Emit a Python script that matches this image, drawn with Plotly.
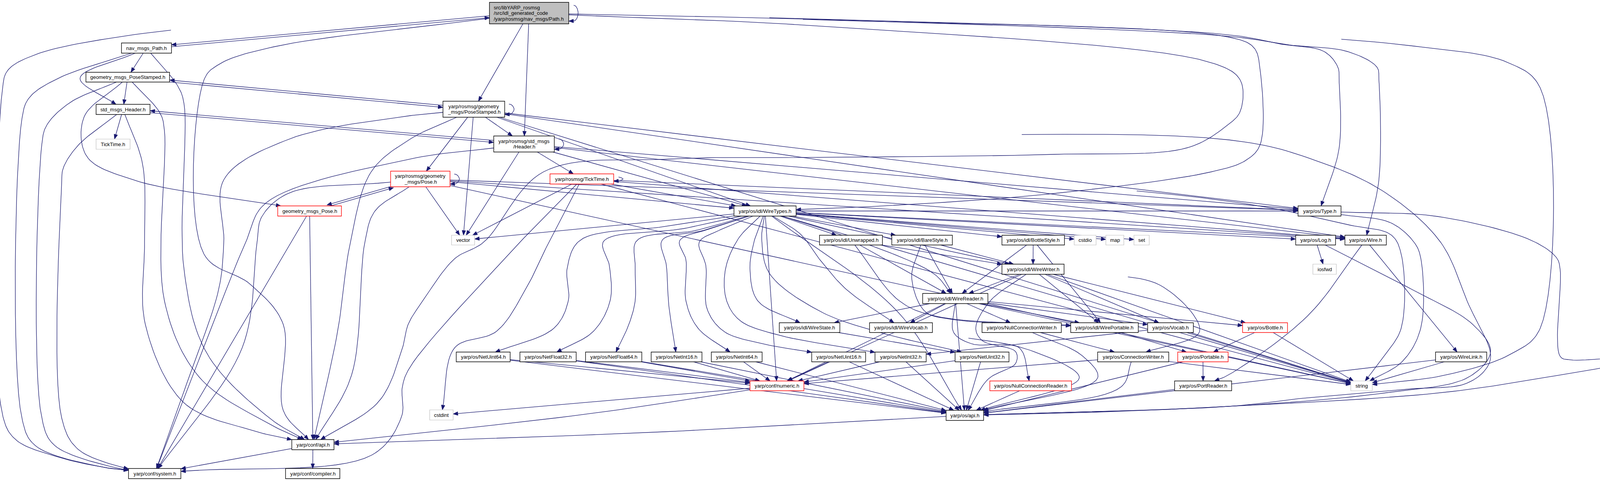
import numpy as np
import plotly.graph_objects as go

# ---- graph data: header nodes and include edges ----
node_ids = ["T", "NP", "GPS", "SH", "TT", "GP", "RPS", "RH", "RP", "RT", "WT", "vector",
            "Unwrapped", "BareStyle", "BottleStyle", "cstdio", "map", "set", "Type", "Log", "Wire",
            "WW", "WR", "iosfwd", "WS", "WV", "NCW", "WP", "Vocab", "Bottle",
            "NU64", "NF32", "NF64", "NI16", "NI64", "NU16", "NI32", "NU32", "CW", "Portable",
            "WireLink", "numeric", "NCR", "PortReader", "string", "cstdint", "osapi", "confapi",
            "system", "compiler"]
node_labels = ["src/libYARP_rosmsg\n/src/idl_generated_code\n/yarp/rosmsg/nav_msgs/Path.h",
               "nav_msgs_Path.h", "geometry_msgs_PoseStamped.h", "std_msgs_Header.h", "TickTime.h",
               "geometry_msgs_Pose.h", "yarp/rosmsg/geometry\n_msgs/PoseStamped.h",
               "yarp/rosmsg/std_msgs\n/Header.h", "yarp/rosmsg/geometry\n_msgs/Pose.h",
               "yarp/rosmsg/TickTime.h", "yarp/os/idl/WireTypes.h", "vector",
               "yarp/os/idl/Unwrapped.h", "yarp/os/idl/BareStyle.h", "yarp/os/idl/BottleStyle.h",
               "cstdio", "map", "set", "yarp/os/Type.h", "yarp/os/Log.h", "yarp/os/Wire.h",
               "yarp/os/idl/WireWriter.h", "yarp/os/idl/WireReader.h", "iosfwd",
               "yarp/os/idl/WireState.h", "yarp/os/idl/WireVocab.h", "yarp/os/NullConnectionWriter.h",
               "yarp/os/idl/WirePortable.h", "yarp/os/Vocab.h", "yarp/os/Bottle.h",
               "yarp/os/NetUint64.h", "yarp/os/NetFloat32.h", "yarp/os/NetFloat64.h",
               "yarp/os/NetInt16.h", "yarp/os/NetInt64.h", "yarp/os/NetUint16.h",
               "yarp/os/NetInt32.h", "yarp/os/NetUint32.h", "yarp/os/ConnectionWriter.h",
               "yarp/os/Portable.h", "yarp/os/WireLink.h", "yarp/conf/numeric.h",
               "yarp/os/NullConnectionReader.h", "yarp/os/PortReader.h", "string", "cstdint",
               "yarp/os/api.h", "yarp/conf/api.h", "yarp/conf/system.h", "yarp/conf/compiler.h"]
# root / normal / red (truncated graph) / ext (system header)
node_kind = ["root", "normal", "normal", "normal", "ext", "red", "normal", "normal", "red", "red",
             "normal", "ext", "normal", "normal", "normal", "ext", "ext", "ext", "normal", "normal",
             "normal", "normal", "normal", "ext", "normal", "normal", "normal", "normal", "normal",
             "red", "normal", "normal", "normal", "normal", "normal", "normal", "normal", "normal",
             "normal", "red", "normal", "red", "red", "normal", "ext", "ext", "normal", "normal",
             "normal", "normal"]

edges = [
    ("T", "T"), ("T", "NP"), ("NP", "T"), ("T", "system"), ("T", "confapi"), ("T", "confapi2"),
    ("T", "RPS"), ("T", "RH"), ("T", "string"), ("T", "Wire"), ("T", "Type"), ("T", "WT"),
    ("NP", "GPS"), ("NP", "SH"), ("NP", "system"), ("NP", "confapi"),
    ("GPS", "RPS"), ("RPS", "GPS"), ("GPS", "SH"), ("GPS", "GP"), ("GPS", "system"), ("GPS", "confapi"),
    ("SH", "TT"), ("SH", "RH"), ("RH", "SH"), ("SH", "system"), ("SH", "confapi"),
    ("GP", "RP"), ("RP", "GP"), ("GP", "confapi"), ("GP", "system"),
    ("RPS", "RPS"), ("RPS", "RH"), ("RPS", "RP"), ("RPS", "vector"), ("RPS", "WT"), ("RPS", "Type"),
    ("RPS", "Wire"), ("RPS", "string"), ("RPS", "confapi"), ("RPS", "system"),
    ("RH", "RH"), ("RH", "RT"), ("RH", "vector"), ("RH", "WT"), ("RH", "Type"), ("RH", "Wire"),
    ("RH", "string"), ("RH", "osapi"), ("RH", "system"),
    ("RP", "RP"), ("RP", "vector"), ("RP", "WT"), ("RP", "Type"), ("RP", "Wire"), ("RP", "string"),
    ("RP", "system"), ("RP", "confapi"),
    ("RT", "RT"), ("RT", "vector"), ("RT", "WT"), ("RT", "Type"), ("RT", "Wire"), ("RT", "string"),
    ("RT", "cstdint"), ("RT", "system"),
    ("WT", "vector"), ("WT", "Unwrapped"), ("WT", "BareStyle"), ("WT", "BottleStyle"), ("WT", "cstdio"),
    ("WT", "map"), ("WT", "set"), ("WT", "WW"), ("WT", "WR"), ("WT", "WS"), ("WT", "WV"),
    ("WT", "NU64"), ("WT", "NF32"), ("WT", "NF64"), ("WT", "NI16"), ("WT", "NI64"), ("WT", "NU16"),
    ("WT", "NI32"), ("WT", "NU32"), ("WT", "Type"), ("WT", "Log"), ("WT", "Wire"), ("WT", "string"),
    ("WT", "numeric"), ("WT", "osapi"),
    ("Unwrapped", "WW"), ("Unwrapped", "WR"), ("Unwrapped", "WP"),
    ("BareStyle", "WW"), ("BareStyle", "WR"), ("BareStyle", "WP"),
    ("BottleStyle", "WW"), ("BottleStyle", "WR"), ("BottleStyle", "WP"),
    ("WW", "WR"), ("WW", "WP"), ("WW", "Vocab"), ("WW", "CW"), ("WW", "string"), ("WW", "Bottle"),
    ("WW", "numeric"), ("WW", "osapi"),
    ("WR", "WS"), ("WR", "WV"), ("WR", "NCW"), ("WR", "WP"), ("WR", "Vocab"), ("WR", "NCR"),
    ("WR", "Bottle"), ("WR", "string"), ("WR", "numeric"), ("WR", "osapi"),
    ("WS", "NU32"), ("WV", "osapi"), ("Vocab", "NI32"), ("Vocab", "string"),
    ("WP", "Portable"), ("NCW", "CW"), ("NCW", "osapi"),
    ("CW", "osapi"), ("CW", "numeric"), ("CW", "string"),
    ("Portable", "PortReader"), ("Portable", "osapi"), ("PortReader", "osapi"), ("NCR", "osapi"),
    ("Bottle", "Portable"), ("Bottle", "string"),
    ("NU64", "numeric"), ("NU64", "osapi"), ("NF32", "numeric"), ("NF32", "osapi"),
    ("NF64", "numeric"), ("NF64", "osapi"), ("NI16", "numeric"), ("NI16", "osapi"),
    ("NI64", "numeric"), ("NI64", "osapi"), ("NU16", "numeric"), ("NU16", "osapi"),
    ("NI32", "numeric"), ("NI32", "osapi"), ("NU32", "numeric"), ("NU32", "osapi"),
    ("numeric", "cstdint"), ("numeric", "confapi"), ("osapi", "confapi"),
    ("confapi", "system"), ("confapi", "compiler"),
    ("Log", "iosfwd"), ("Log", "osapi"), ("Wire", "PortReader"), ("Wire", "WireLink"),
    ("WireLink", "string"), ("WireLink", "osapi"), ("Type", "osapi"), ("Type", "string"),
]

# ---- drawing layout (pixel positions of the boxes in the picture) ----
box = {
    "T": (1253, 1456, 6, 61), "NP": (311, 439, 110, 136), "GPS": (220, 434, 185, 210),
    "SH": (246, 384, 267, 293), "TT": (246, 333, 356, 382), "GP": (711, 874, 527, 553),
    "RPS": (1134, 1292, 259, 300), "RH": (1264, 1419, 348, 389), "RP": (1000, 1152, 438, 478),
    "RT": (1408, 1571, 445, 471), "WT": (1879, 2038, 527, 553), "vector": (1156, 1215, 602, 627),
    "Unwrapped": (2098, 2259, 602, 627), "BareStyle": (2283, 2438, 602, 627),
    "BottleStyle": (2565, 2725, 602, 627), "cstdio": (2750, 2806, 602, 627),
    "map": (2831, 2877, 602, 627), "set": (2903, 2942, 602, 627), "Type": (3323, 3433, 527, 553),
    "Log": (3317, 3419, 602, 627), "Wire": (3443, 3549, 602, 627), "WW": (2565, 2724, 676, 702),
    "WR": (2362, 2529, 751, 777), "iosfwd": (3361, 3421, 676, 702), "WS": (1995, 2150, 826, 851),
    "WV": (2226, 2387, 826, 851), "NCW": (2514, 2717, 826, 851), "WP": (2741, 2914, 826, 851),
    "Vocab": (2938, 3055, 826, 851), "Bottle": (3181, 3296, 826, 851),
    "NU64": (1168, 1306, 901, 926), "NF32": (1331, 1475, 901, 926), "NF64": (1499, 1643, 901, 926),
    "NI16": (1667, 1797, 901, 926), "NI64": (1821, 1951, 901, 926), "NU16": (2078, 2216, 901, 926),
    "NI32": (2240, 2371, 901, 926), "NU32": (2445, 2583, 901, 926), "CW": (2810, 2992, 901, 926),
    "Portable": (3015, 3144, 901, 926), "WireLink": (3675, 3806, 901, 926),
    "numeric": (1920, 2058, 975, 1000), "NCR": (2534, 2743, 975, 1000),
    "PortReader": (3007, 3153, 975, 1000), "string": (3458, 3513, 975, 1000),
    "cstdint": (1100, 1160, 1049, 1075), "osapi": (2422, 2518, 1050, 1076),
    "confapi": (747, 855, 1125, 1151), "system": (329, 463, 1199, 1225),
    "compiler": (731, 870, 1199, 1225),
}
box["confapi2"] = box["confapi"]

# hand routed splines (intermediate points only)
routes = {
    ("T", "system"): [(700, 55), (300, 95), (90, 140), (20, 180), (6, 230), (6, 1060), (40, 1125),
                      (150, 1170), (260, 1195)],
    ("T", "confapi"): [(700, 120), (560, 165), (522, 205), (522, 650), (640, 727), (725, 830), (725, 1050)],
    ("T", "confapi2"): [(2100, 67), (3100, 160), (3175, 205), (3175, 285), (3140, 322), (3040, 378),
                        (2700, 395), (2100, 403), (1720, 407), (1391, 440), (1238, 620), (1164, 662),
                        (1083, 769), (1045, 830), (1031, 888), (971, 1026)],
    ("T", "string"): [(2100, 48), (3146, 83), (3620, 118), (3860, 160), (3943, 225), (3943, 840),
                      (3870, 905), (3700, 960)],
    ("T", "Wire"): [(2100, 50), (3146, 93), (3300, 115), (3450, 132), (3525, 172), (3530, 205), (3530, 460)],
    ("T", "Type"): [(2100, 49), (3146, 89), (3280, 113), (3390, 132), (3425, 172), (3428, 205), (3428, 380)],
    ("T", "WT"): [(2100, 51), (3146, 95), (3210, 122), (3226, 180), (3226, 370), (3190, 410),
                  (3100, 440), (2700, 495), (2300, 525)],
    ("NP", "SH"): [(205, 200)],
    ("NP", "system"): [(150, 200), (75, 250), (56, 305), (56, 1070), (90, 1140), (260, 1195)],
    ("NP", "confapi"): [(455, 220), (471, 265), (471, 690), (530, 905), (690, 1070)],
    ("GPS", "GP"): [(215, 300), (222, 400), (340, 460)],
    ("GPS", "system"): [(180, 262), (120, 320), (107, 370), (107, 1070), (140, 1140), (300, 1198)],
    ("GPS", "confapi"): [(410, 290), (421, 335), (421, 770), (510, 965), (680, 1080)],
    ("SH", "system"): [(200, 372), (162, 430), (158, 470), (158, 1070), (200, 1150), (320, 1198)],
    ("SH", "confapi"): [(365, 420), (370, 620), (372, 830), (470, 1030), (640, 1100)],
    ("RPS", "confapi"): [(1050, 356), (950, 440), (897, 620), (864, 850)],
    ("RPS", "system"): [(1050, 296), (740, 356), (573, 460), (573, 620), (560, 740), (482, 970)],
    ("RH", "system"): [(1050, 407), (680, 520), (629, 620), (522, 888)],
    ("RH", "osapi"): [(3146, 358), (3380, 415), (3548, 494), (3688, 620), (3760, 780), (3816, 908),
                      (3802, 947), (3749, 983), (3615, 995), (3347, 1018), (3146, 1040)],
    ("RH", "string"): [(3146, 515), (3450, 575), (3561, 601), (3587, 650), (3587, 840), (3540, 915)],
    ("RP", "system"): [(740, 494), (670, 555), (658, 620), (620, 890)],
    ("RP", "confapi"): [(960, 540), (934, 620), (900, 960)],
    ("RT", "cstdint"): [(1405, 620), (1351, 730), (1271, 848), (1164, 890)],
    ("RT", "system"): [(1331, 620), (1050, 939), (1030, 990), (1028, 1066), (951, 1165)],
    ("WT", "NU64"): [(1700, 580), (1485, 615), (1452, 686), (1455, 769), (1418, 840)],
    ("WT", "NF32"): [(1750, 585), (1545, 618), (1560, 680), (1562, 769), (1519, 848)],
    ("WT", "NF64"): [(1780, 590), (1630, 616), (1626, 680), (1626, 770), (1610, 830)],
    ("WT", "NI16"): [(1800, 590), (1695, 615), (1706, 680), (1712, 780)],
    ("WT", "NI64"): [(1820, 585), (1740, 616), (1756, 665), (1756, 770), (1787, 840)],
    ("WT", "NU16"): [(1840, 590), (1790, 620), (1807, 680), (1810, 790), (1853, 848), (1954, 880)],
    ("WT", "WS"): [(1930, 620), (1920, 690), (1940, 770)],
    ("WT", "NI32"): [(1890, 611), (1857, 690), (1860, 769), (1894, 820), (1987, 856)],
    ("WT", "NU32"): [(1950, 611), (1970, 700), (2100, 797), (2250, 850)],
    ("WT", "WV"): [(2050, 600), (2100, 666), (2167, 741)],
    ("WT", "WR"): [(2150, 600), (2390, 700)],
    ("WR", "NCR"): [(2441, 850), (2488, 880), (2609, 890)],
    ("WW", "osapi"): [(2535, 770), (2498, 840), (2515, 872), (2600, 900), (2600, 930), (2530, 970)],
    ("WW", "CW"): [(2970, 730), (3071, 848)],
    ("WV", "osapi"): [(2636, 896), (2763, 967)],
    ("NCW", "osapi"): [(2770, 910), (2810, 967)],
    ("CW", "osapi"): [(2870, 990)],
    ("Unwrapped", "WP"): [(2301, 769), (2395, 809)],
    ("BareStyle", "WP"): [(2334, 710), (2368, 797), (2435, 817)],
    ("Wire", "PortReader"): [(3347, 809), (3146, 959)],
    ("Log", "osapi"): [(3615, 741), (3770, 830), (3816, 900), (3760, 965), (3550, 1005), (3146, 1040)],
    ("Type", "osapi"): [(3680, 554), (3920, 615), (3985, 660), (3994, 690), (3994, 912), (4020, 921),
                        (4188, 915), (4175, 924), (3950, 967), (3680, 1006), (3150, 1040), (2800, 1055)],
    ("Type", "string"): [(3560, 570), (3620, 620), (3637, 660), (3637, 840), (3590, 925)],
    ("numeric", "confapi"): [(1500, 1060)],
    ("osapi", "confapi"): [(1700, 1105)],
    ("WT", "osapi"): [(2300, 800)],
}

EDGE = "#191970"
ARROW_L, ARROW_W = 12.0, 4.6


def center(b):
    return np.array([(b[0] + b[1]) / 2.0, (b[2] + b[3]) / 2.0])


def clip(b, toward):
    c = center(b)
    d = np.asarray(toward, float) - c
    hw, hh = (b[1] - b[0]) / 2.0, (b[3] - b[2]) / 2.0
    tx = hw / abs(d[0]) if abs(d[0]) > 1e-9 else np.inf
    ty = hh / abs(d[1]) if abs(d[1]) > 1e-9 else np.inf
    return c + d * min(tx, ty)


def catmull(pts, n=16):
    # centripetal Catmull-Rom, passes through every point without overshoot
    pts = np.asarray(pts, float)
    if len(pts) == 2:
        return pts
    P = np.vstack([2 * pts[0] - pts[1], pts, 2 * pts[-1] - pts[-2]])
    out = []
    for i in range(1, len(P) - 2):
        p0, p1, p2, p3 = P[i - 1], P[i], P[i + 1], P[i + 2]
        t0 = 0.0
        t1 = t0 + max(np.hypot(*(p1 - p0)), 1e-6) ** 0.5
        t2 = t1 + max(np.hypot(*(p2 - p1)), 1e-6) ** 0.5
        t3 = t2 + max(np.hypot(*(p3 - p2)), 1e-6) ** 0.5
        for t in np.linspace(t1, t2, n, endpoint=False):
            a1 = (t1 - t) / (t1 - t0) * p0 + (t - t0) / (t1 - t0) * p1
            a2 = (t2 - t) / (t2 - t1) * p1 + (t - t1) / (t2 - t1) * p2
            a3 = (t3 - t) / (t3 - t2) * p2 + (t - t2) / (t3 - t2) * p3
            b1 = (t2 - t) / (t2 - t0) * a1 + (t - t0) / (t2 - t0) * a2
            b2 = (t3 - t) / (t3 - t1) * a2 + (t - t1) / (t3 - t1) * a3
            out.append((t2 - t) / (t2 - t1) * b1 + (t - t1) / (t2 - t1) * b2)
    out.append(P[-2])
    return np.array(out)


lx, ly, ax, ay = [], [], [], []
pairs = set((s, d.rstrip("2")) for s, d in edges)

for src, dst in edges:
    bs, bd = box[src], box[dst]
    if src == dst:
        x1, y0, y1 = bs[1], bs[2], bs[3]
        cy = (y0 + y1) / 2.0
        pts = catmull([(x1, y0 + 7), (x1 + 17, y0 + 9), (x1 + 24, cy), (x1 + 17, y1 - 9), (x1, y1 - 7)], 10)
    else:
        via = routes.get((src, dst))
        if via:
            s = clip(bs, via[0])
            e = clip(bd, via[-1])
            pts = catmull([tuple(s)] + via + [tuple(e)])
        else:
            s = clip(bs, center(bd))
            e = clip(bd, center(bs))
            pts = np.array([s, e])
            if (dst.rstrip("2"), src) in pairs:
                d = e - s
                nrm = np.array([-d[1], d[0]]) / np.hypot(*d)
                pts = pts + nrm * 2.5
    tip = pts[-1]
    k = len(pts) - 2
    while k > 0 and np.hypot(*(tip - pts[k])) < ARROW_L:
        k -= 1
    ref = pts[k]
    u = (tip - ref) / max(np.hypot(*(tip - ref)), 1e-9)
    base = tip - u * ARROW_L
    pn = np.array([-u[1], u[0]])
    keep = [p for p in pts[:-1] if np.dot(p - base, u) < 0] or [pts[0]]
    line = np.vstack(keep + [base])
    lx += list(line[:, 0]) + [None]
    ly += list(line[:, 1]) + [None]
    tri = [tip, base + pn * ARROW_W, base - pn * ARROW_W, tip]
    ax += [p[0] for p in tri] + [None]
    ay += [p[1] for p in tri] + [None]

fig = go.Figure()
fig.add_trace(go.Scatter(x=lx, y=ly, mode="lines", line=dict(color=EDGE, width=1.3),
                         hoverinfo="skip", showlegend=False))
fig.add_trace(go.Scatter(x=ax, y=ay, mode="lines", fill="toself", fillcolor=EDGE,
                         line=dict(color=EDGE, width=1), hoverinfo="skip", showlegend=False))

border = {"root": "#000000", "normal": "#000000", "red": "#ff0000", "ext": "#bfbfbf"}
FONT = "Liberation Sans, Arial, Helvetica, sans-serif"
shapes, annos = [], []
for nid, label, kind in zip(node_ids, node_labels, node_kind):
    b = box[nid]
    shapes.append(dict(type="rect", xref="x", yref="y", x0=b[0], x1=b[1], y0=b[2], y1=b[3],
                       line=dict(color=border[kind], width=1.4 if kind != "ext" else 1.2),
                       fillcolor="#bfbfbf" if kind == "root" else "#ffffff", layer="above"))
    lines = label.split("\n")
    cy = (b[2] + b[3]) / 2.0
    for i, txt in enumerate(lines):
        yy = cy + (i - (len(lines) - 1) / 2.0) * 14.5
        if kind == "root":
            annos.append(dict(x=b[0] + 9, y=yy, text=txt, xanchor="left", yanchor="middle",
                              showarrow=False, xref="x", yref="y",
                              font=dict(family=FONT, size=13, color="#000000")))
        else:
            annos.append(dict(x=(b[0] + b[1]) / 2.0, y=yy, text=txt, xanchor="center",
                              yanchor="middle", showarrow=False, xref="x", yref="y",
                              font=dict(family=FONT, size=13, color="#000000")))

fig.update_layout(
    width=4196, height=1231, margin=dict(l=0, r=0, t=0, b=0),
    paper_bgcolor="#ffffff", plot_bgcolor="#ffffff",
    xaxis=dict(range=[0, 4196], visible=False, fixedrange=True),
    yaxis=dict(range=[1231, 0], visible=False, fixedrange=True),
    shapes=shapes, annotations=annos, showlegend=False,
)
fig.write_html("out.html",
               post_script="document.body.style.margin='0';document.body.style.overflow='hidden';")
